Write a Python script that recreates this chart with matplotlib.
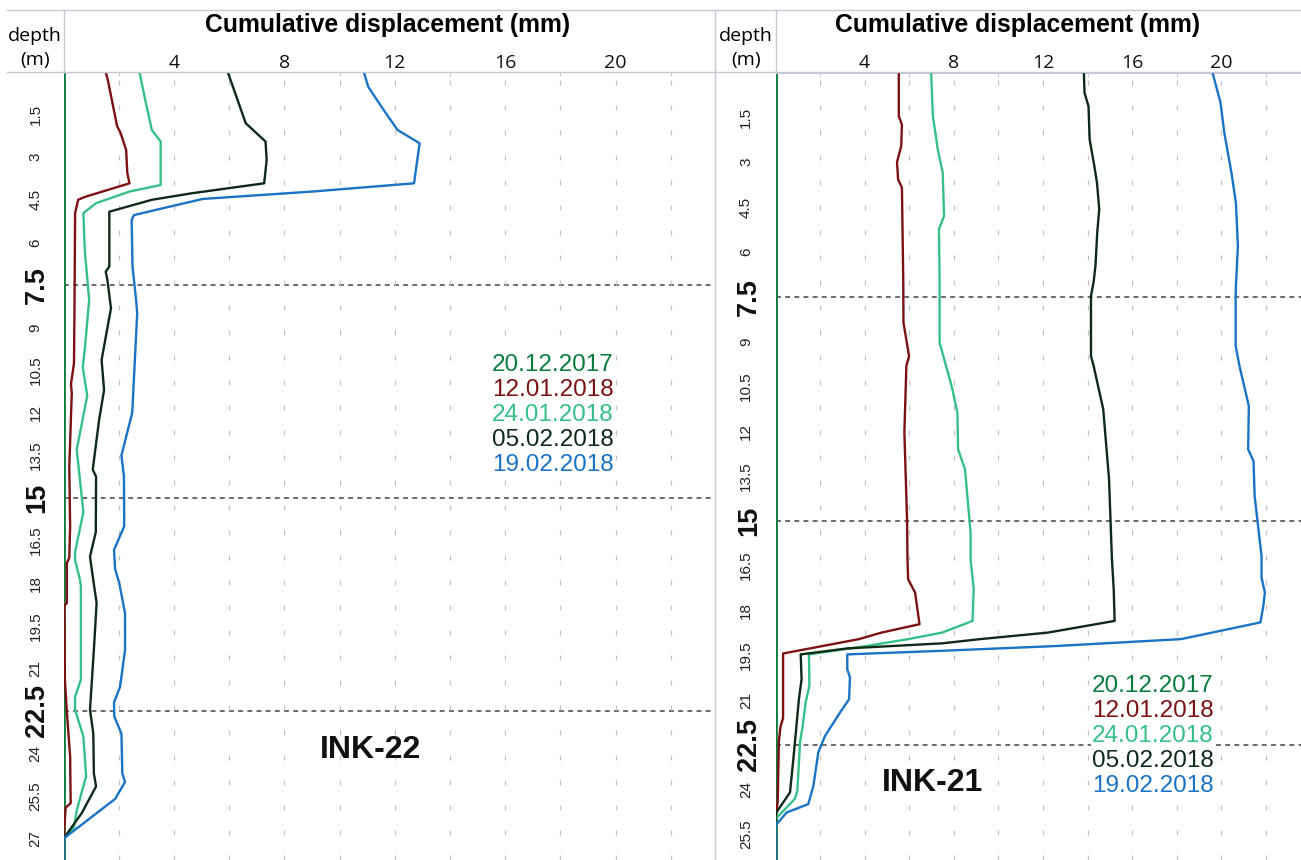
import matplotlib.pyplot as plt
from matplotlib.lines import Line2D

plt.rcParams['font.family'] = ['Liberation Sans', 'DejaVu Sans']

dates = ['20.12.2017', '12.01.2018', '24.01.2018', '05.02.2018', '19.02.2018']
colors = ['#0a7d3e', '#7b1113', '#35c08a', '#0d2a17', '#1a73c4']

# INK-22 readings (depth m, cumulative displacement mm)
ink22_depth_1201 = [0, 0.3, 1.9, 2.15, 2.75, 3.55, 3.92, 4.4, 4.5, 4.97, 8.0, 10.25, 11.0, 11.3, 13.9,
                    16.0, 17.1, 17.3, 18.7, 18.8, 21.4, 22.5, 24.1, 25.75, 25.9, 27.0, 27.75]
ink22_disp_1201 = [1.53, 1.61, 1.94, 2.07, 2.27, 2.31, 2.39, 0.77, 0.53, 0.42, 0.4, 0.38, 0.27, 0.3, 0.21,
                   0.24, 0.21, 0.12, 0.12, 0.03, 0.05, 0.12, 0.24, 0.26, 0.08, 0.0, 0.0]
ink22_depth_2401 = [0, 0.98, 2.04, 2.45, 3.98, 4.21, 4.62, 4.97, 6.27, 8.03, 9.67, 10.4, 11.4, 13.3, 15.5,
                    16.9, 17.18, 17.9, 18.1, 21.4, 22.0, 22.46, 23.4, 24.8, 26.0, 26.6, 27.0, 27.75]
ink22_disp_2401 = [2.75, 2.96, 3.2, 3.52, 3.52, 2.39, 1.18, 0.72, 0.77, 0.93, 0.78, 0.7, 0.86, 0.48, 0.72,
                   0.42, 0.42, 0.6, 0.63, 0.63, 0.42, 0.42, 0.72, 0.82, 0.48, 0.38, 0.0, 0.0]
ink22_depth_0502 = [0, 1.8, 2.45, 3.1, 3.92, 4.27, 4.5, 4.92, 6.85, 7.03, 7.32, 8.32, 10.14, 11.2, 12.25,
                    14.0, 14.25, 16.2, 17.07, 17.9, 18.7, 20.35, 22.46, 23.3, 24.7, 25.16, 26.1, 27.0, 27.75]
ink22_disp_0502 = [5.95, 6.6, 7.32, 7.36, 7.27, 4.65, 3.2, 1.66, 1.66, 1.53, 1.59, 1.72, 1.38, 1.47, 1.29,
                   1.06, 1.18, 1.17, 0.96, 1.08, 1.2, 1.1, 0.96, 1.08, 1.1, 1.18, 0.66, 0.0, 0.0]
ink22_depth_1902 = [0, 0.52, 1.34, 2.04, 2.51, 3.92, 4.21, 4.47, 4.74, 5.04, 5.21, 6.85, 8.03, 8.5, 12.0,
                    13.5, 14.25, 16.0, 16.83, 17.5, 18.0, 19.06, 20.35, 21.65, 22.2, 22.7, 23.3, 24.7, 25.0,
                    25.6, 26.1, 27.0, 27.75]
ink22_disp_1902 = [10.88, 11.04, 11.6, 12.1, 12.9, 12.7, 9.02, 5.05, 3.85, 2.55, 2.47, 2.5, 2.63, 2.67, 2.49,
                   2.1, 2.19, 2.2, 1.83, 1.87, 2.02, 2.23, 2.23, 2.05, 1.83, 1.84, 2.1, 2.13, 2.23,
                   1.87, 1.2, 0.0, 0.0]

# INK-21 readings
ink21_depth_1201 = [0, 1.46, 1.74, 2.46, 3.0, 3.58, 3.85, 6.92, 8.37, 9.49, 9.82, 12.04, 14.95, 16.29, 16.96,
                    17.4, 18.46, 18.74, 18.96, 19.44, 21.6, 21.9, 22.4, 24.4, 24.9, 26.35]
ink21_disp_1201 = [5.53, 5.53, 5.67, 5.64, 5.45, 5.5, 5.67, 5.73, 5.74, 5.99, 5.87, 5.78, 5.9, 5.92, 5.95,
                   6.26, 6.46, 4.76, 3.74, 0.34, 0.34, 0.22, 0.15, 0.1, 0.0, 0.0]
ink21_depth_2401 = [0, 1.46, 2.58, 3.35, 4.8, 5.25, 6.92, 9.04, 9.82, 10.49, 11.38, 12.61, 13.28, 15.39, 16.29,
                    17.29, 18.35, 18.74, 18.96, 19.19, 19.47, 20.52, 21.08, 21.86, 22.41, 24.04, 24.3, 24.98,
                    26.35]
ink21_disp_2401 = [6.98, 7.06, 7.28, 7.5, 7.56, 7.33, 7.36, 7.36, 7.65, 7.9, 8.16, 8.19, 8.5, 8.75, 8.75,
                   8.89, 8.84, 7.48, 5.95, 4.08, 1.5, 1.52, 1.35, 1.22, 1.1, 0.98, 0.87, 0.0,
                   0.0]
ink21_depth_0502 = [0, 0.68, 1.13, 2.24, 3.13, 3.69, 4.58, 5.36, 6.48, 7.0, 7.48, 9.49, 9.82, 11.27, 13.61,
                    16.29, 17.29, 18.35, 18.74, 18.96, 19.1, 19.27, 19.47, 20.3, 20.97, 22.98, 24.09, 24.8,
                    26.35]
ink21_disp_0502 = [13.83, 13.86, 14.04, 14.09, 14.3, 14.42, 14.52, 14.43, 14.35, 14.27, 14.15, 14.15, 14.27,
                   14.7, 14.96, 15.09, 15.17, 15.21, 12.23, 9.17, 7.48, 3.23, 1.13, 1.17, 1.05, 0.8, 0.65,
                   0.0, 0.0]
ink21_depth_1902 = [0, 1.01, 2.02, 3.35, 4.36, 5.81, 7.15, 7.48, 9.15, 9.82, 11.16, 12.61, 13.0, 14.17, 14.95,
                    16.18, 16.9, 17.4, 17.85, 18.4, 18.96, 19.19, 19.35, 19.47, 19.97, 20.24, 20.97, 21.42,
                    22.2, 22.75, 23.87, 24.48, 24.76, 25.2, 26.35]
ink21_disp_1902 = [19.6, 19.96, 20.13, 20.45, 20.65, 20.74, 20.65, 20.64, 20.64, 20.81, 21.23, 21.2, 21.44,
                   21.49, 21.61, 21.8, 21.8, 21.95, 21.88, 21.75, 18.18, 12.58, 7.48, 3.22, 3.22, 3.34, 3.3,
                   2.89, 2.22, 1.92, 1.7, 1.47, 0.5, 0.0, 0.0]

depth_ticks_small = [1.5, 3, 4.5, 6, 9, 10.5, 12, 13.5, 16.5, 18, 19.5, 21, 24, 25.5, 27]
depth_ticks_bold = [7.5, 15, 22.5]
disp_ticks = [4, 8, 12, 16, 20]
disp_minor = [2, 6, 10, 14, 18, 22]

W, H = 1301, 860
fig = plt.figure(figsize=(W / 100, H / 100), dpi=100)


def fx(x):
    return x / W


def fy(y):
    return 1 - y / H


panels = [
    dict(name='INK-22', box=(63.5, 713, 72, 860), ymax=27.75, xmax=23.53,
         series=[(ink22_depth_1201, ink22_disp_1201), (ink22_depth_2401, ink22_disp_2401),
                 (ink22_depth_0502, ink22_disp_0502), (ink22_depth_1902, ink22_disp_1902)],
         small_x=35.5, bold_x=37, title_x=388, depth_x=35,
         leg=(553, 365), name_xy=(370, 750)),
    dict(name='INK-21', box=(775.5, 1301, 72.5, 860), ymax=26.35, xmax=23.57,
         series=[(ink21_depth_1201, ink21_disp_1201), (ink21_depth_2401, ink21_disp_2401),
                 (ink21_depth_0502, ink21_disp_0502), (ink21_depth_1902, ink21_disp_1902)],
         small_x=746, bold_x=749, title_x=1018, depth_x=746,
         leg=(1153, 686), name_xy=(933, 783)),
]

for p in panels:
    x0, x1, yt, yb = p['box']
    ax = fig.add_axes([fx(x0), fy(yb), (x1 - x0) / W, (yb - yt) / H])
    ax.set_xlim(0, p['xmax'])
    ax.set_ylim(p['ymax'], 0)

    # zero reference (first reading)
    ax.plot([0, 0], [0, p['ymax']], color=colors[0], lw=2.0, zorder=2)
    for (d, v), c in zip(p['series'], colors[1:]):
        ax.plot(v, d, color=c, lw=1.7, zorder=3)

    for d in depth_ticks_bold:
        ax.axhline(d, color='#444444', lw=1.1, ls=(0, (3.2, 2.8)), zorder=1.5)

    ax.xaxis.tick_top()
    ax.set_xticks(disp_ticks)
    ax.set_xticks(disp_minor, minor=True)
    ax.tick_params(axis='x', which='major', length=0, pad=0, labelsize=14, labelcolor='#111111')
    ax.tick_params(axis='x', which='minor', length=3, direction='in', color='#b8bccb')
    for lab in ax.get_xticklabels():
        lab.set_fontfamily(['Open Sans', 'DejaVu Sans'])
    ax.grid(axis='x', which='both', color='#c4c4c4', lw=0.9, ls=(0, (4, 16)))
    ax.set_yticks([])
    for s in ['left', 'right', 'bottom']:
        ax.spines[s].set_visible(False)
    ax.spines['top'].set_color('#c5c9d6')

    tx = ax.get_yaxis_transform()
    for d in depth_ticks_small:
        if d < p['ymax'] - 0.4:
            ax.text((p['small_x'] - x0) / (x1 - x0), d, f'{d:g}', transform=tx, rotation=90,
                    ha='center', va='center', fontsize=11, color='#222222', clip_on=False)
    for d in depth_ticks_bold:
        ax.text((p['bold_x'] - x0) / (x1 - x0), d, f'{d:g}', transform=tx, rotation=90,
                ha='center', va='center', fontsize=19.5, fontweight='bold', color='#111111', clip_on=False)

    fig.text(fx(p['title_x']), fy(25), 'Cumulative displacement (mm)', ha='center', va='center',
             fontsize=17.8, fontweight='bold')
    fig.text(fx(p['depth_x']), fy(36), 'depth', ha='center', va='center', fontsize=14,
             family=['Open Sans', 'DejaVu Sans'])
    fig.text(fx(p['depth_x']), fy(60), '(m)', ha='center', va='center', fontsize=14,
             family=['Open Sans', 'DejaVu Sans'])

    lx, ly = p['leg']
    for i, (lab, c) in enumerate(zip(dates, colors)):
        fig.text(fx(lx), fy(ly + 25 * i), lab, color=c, ha='center', va='center', fontsize=17.5,
                 bbox=dict(facecolor='white', edgecolor='none', pad=0.5))
    fig.text(fx(p['name_xy'][0]), fy(p['name_xy'][1]), p['name'], ha='center', va='center',
             fontsize=23, fontweight='bold', color='#111111')

# frame lines of the header
frame = '#c5c9d6'
fig.add_artist(Line2D([fx(7), fx(W)], [fy(10), fy(10)], color=frame, lw=1))
fig.add_artist(Line2D([fx(7), fx(W)], [fy(72), fy(72)], color=frame, lw=1))
fig.add_artist(Line2D([fx(64), fx(64)], [fy(10), fy(72)], color=frame, lw=1))
fig.add_artist(Line2D([fx(715), fx(715)], [fy(10), fy(H)], color=frame, lw=1))
fig.add_artist(Line2D([fx(776), fx(776)], [fy(10), fy(72)], color=frame, lw=1))

fig.savefig('out.png', dpi=100)
